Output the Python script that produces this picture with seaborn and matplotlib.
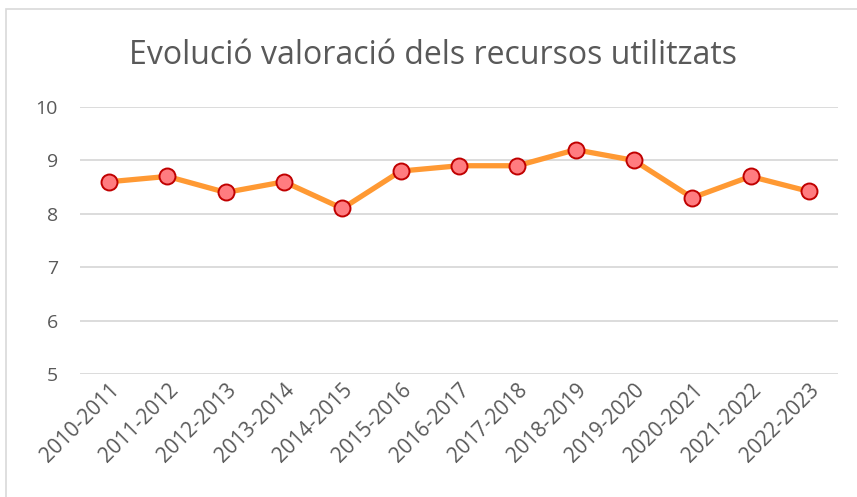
import matplotlib
matplotlib.use("Agg")

import matplotlib.pyplot as plt
from matplotlib.patches import Rectangle
import seaborn as sns
import pandas as pd

# ── Data ────────────────────────────────────────────────────────────────────
cursos = ["2010-2011", "2011-2012", "2012-2013", "2013-2014", "2014-2015",
          "2015-2016", "2016-2017", "2017-2018", "2018-2019", "2019-2020",
          "2020-2021", "2021-2022", "2022-2023"]
valoracio = [8.6, 8.7, 8.4, 8.6, 8.1, 8.8, 8.9, 8.9, 9.2, 9.0, 8.3, 8.7, 8.42]
y_ticks = [5, 6, 7, 8, 9, 10]

# ── Style ───────────────────────────────────────────────────────────────────
TEXT = "#595959"
GRID = "#D9D9D9"
LINE = "#FF9933"
MARK_FACE = "#FF7C80"
MARK_EDGE = "#C00000"

sns.set_style("white")
plt.rcParams["font.family"] = ["Open Sans", "DejaVu Sans"]

W, H = 857, 497
fig = plt.figure(figsize=(W / 100, H / 100), dpi=100)
ax = fig.add_axes([80 / W, 1 - 374 / H, (838 - 80) / W, (374 - 107) / H])

df = pd.DataFrame({"curs": cursos, "valoracio": valoracio})
sns.lineplot(data=df, x="curs", y="valoracio", ax=ax, color=LINE,
             linewidth=3.8, marker="o", markersize=11.5,
             markerfacecolor=MARK_FACE, markeredgecolor=MARK_EDGE,
             markeredgewidth=1.4, zorder=3)

ax.set_ylim(5, 10)
ax.set_xlim(-0.5, len(cursos) - 0.5)
ax.set_yticks(y_ticks)
ax.grid(axis="y", color=GRID, linewidth=1.3)
ax.set_axisbelow(True)
for s in ax.spines.values():
    s.set_visible(False)
ax.set_xlabel("")
ax.set_ylabel("")
ax.tick_params(axis="both", length=0, colors=TEXT)
ax.tick_params(axis="y", pad=16, labelsize=14)
ax.tick_params(axis="x", pad=4, labelsize=15)
plt.setp(ax.get_xticklabels(), rotation=45, ha="right", rotation_mode="anchor")

fig.text(433 / W, 1 - 55 / H, "Evolució valoració dels recursos utilitzats",
         ha="center", va="center", fontsize=23, color=TEXT)

# chart frame
fig.patches.append(Rectangle((6 / W, -0.05), 1.1, 1 - 9 / H + 0.05,
                             transform=fig.transFigure, fill=False,
                             edgecolor=GRID, linewidth=1.2))

fig.savefig("out.png", dpi=100, facecolor="white")
